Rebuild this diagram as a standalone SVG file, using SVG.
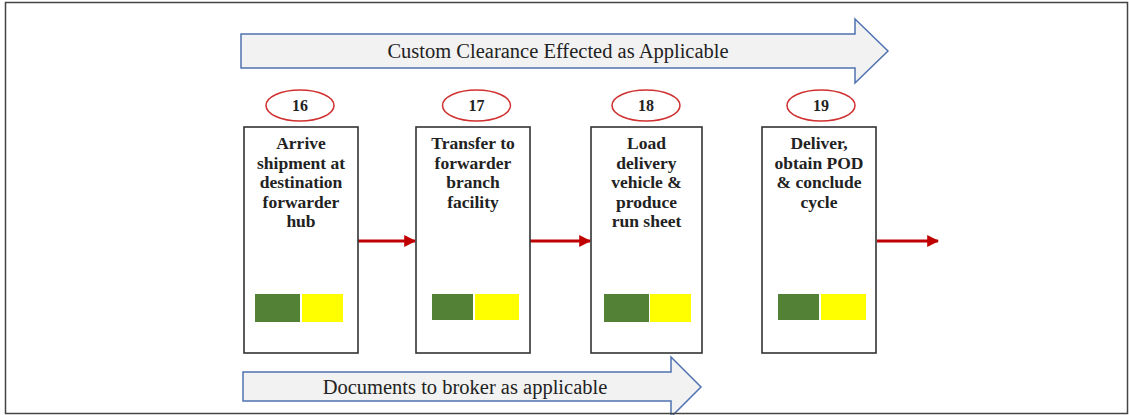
<svg xmlns="http://www.w3.org/2000/svg" width="1129" height="415" viewBox="0 0 1129 415">
<style>
.band{fill:#f2f2f2;stroke:#4f72b0;stroke-width:1.5}
.bandtxt{font-family:"Liberation Serif","DejaVu Serif",serif;font-size:20.5px;fill:#222;text-anchor:middle}
.box{fill:#fff;stroke:#333;stroke-width:1.6}
.num{fill:#fff;stroke:#d03030;stroke-width:1.5}
.numtxt{font-family:"Liberation Serif","DejaVu Serif",serif;font-size:16px;font-weight:bold;fill:#222;text-anchor:middle}
.lbl{font-family:"Liberation Serif","DejaVu Serif",serif;font-size:17.5px;font-weight:bold;fill:#222;text-anchor:middle}
.g{fill:#538135}
.y{fill:#ffff00}
.conn{stroke:#c00000;stroke-width:3;fill:none;marker-end:url(#ah)}
</style>
<defs>
<marker id="ah" viewBox="0 0 10 10" refX="9" refY="5" markerWidth="4" markerHeight="4" orient="auto" markerUnits="strokeWidth">
<path d="M0,0 L10,5 L0,10 z" fill="#c00000"/>
</marker>
</defs>
<rect x="0" y="0" width="1129" height="415" fill="#fff"/>
<g id="band-top">
<path class="band" d="M241,34 L855,34 L855,19 L888,51 L855,83 L855,68 L241,68 z"/>
<text class="bandtxt" x="558" y="58">Custom Clearance Effected as Applicable</text>
</g>
<g id="band-bottom">
<path class="band" d="M243,372 L671,372 L671,357 L701,387 L671,417 L671,401 L243,401 z"/>
<text class="bandtxt" x="465" y="394">Documents to broker as applicable</text>
</g>
<g id="connectors">
<line class="conn" x1="358" y1="241" x2="415" y2="241"/>
<line class="conn" x1="530" y1="241" x2="590" y2="241"/>
<line class="conn" x1="877" y1="241" x2="938" y2="241"/>
</g>
<g id="step16">
<ellipse class="num" cx="300" cy="105.5" rx="34" ry="15.5"/>
<text class="numtxt" x="300" y="111">16</text>
<rect class="box" x="244" y="127" width="114" height="226"/>
<text class="lbl" x="301" y="149">Arrive</text>
<text class="lbl" x="301" y="168.5">shipment at</text>
<text class="lbl" x="301" y="188">destination</text>
<text class="lbl" x="301" y="207.5">forwarder</text>
<text class="lbl" x="301" y="227">hub</text>
<rect class="g" x="255" y="294" width="45" height="28"/>
<rect class="y" x="302" y="294" width="41" height="28"/>
</g>
<g id="step17">
<ellipse class="num" cx="476.5" cy="105.5" rx="34" ry="15.5"/>
<text class="numtxt" x="476.5" y="111">17</text>
<rect class="box" x="416" y="127" width="114" height="226"/>
<text class="lbl" x="473" y="149">Transfer to</text>
<text class="lbl" x="473" y="168.5">forwarder</text>
<text class="lbl" x="473" y="188">branch</text>
<text class="lbl" x="473" y="207.5">facility</text>
<rect class="g" x="432" y="294" width="41" height="26"/>
<rect class="y" x="475" y="294" width="44" height="26"/>
</g>
<g id="step18">
<ellipse class="num" cx="646" cy="105.5" rx="34" ry="15.5"/>
<text class="numtxt" x="646" y="111">18</text>
<rect class="box" x="591" y="127" width="111" height="226"/>
<text class="lbl" x="646.5" y="149">Load</text>
<text class="lbl" x="646.5" y="168.5">delivery</text>
<text class="lbl" x="646.5" y="188">vehicle &amp;</text>
<text class="lbl" x="646.5" y="207.5">produce</text>
<text class="lbl" x="646.5" y="227">run sheet</text>
<rect class="g" x="604" y="294" width="45" height="28"/>
<rect class="y" x="650" y="294" width="41" height="28"/>
</g>
<g id="step19">
<ellipse class="num" cx="821" cy="105.5" rx="34" ry="15.5"/>
<text class="numtxt" x="821" y="111">19</text>
<rect class="box" x="762" y="127" width="114" height="226"/>
<text class="lbl" x="819" y="149">Deliver,</text>
<text class="lbl" x="819" y="168.5">obtain POD</text>
<text class="lbl" x="819" y="188">&amp; conclude</text>
<text class="lbl" x="819" y="207.5">cycle</text>
<rect class="g" x="778" y="294" width="41" height="26"/>
<rect class="y" x="821" y="294" width="45" height="26"/>
</g>
<rect x="5.5" y="2.5" width="1122" height="411" fill="none" stroke="#444" stroke-width="1.5"/>
</svg>
